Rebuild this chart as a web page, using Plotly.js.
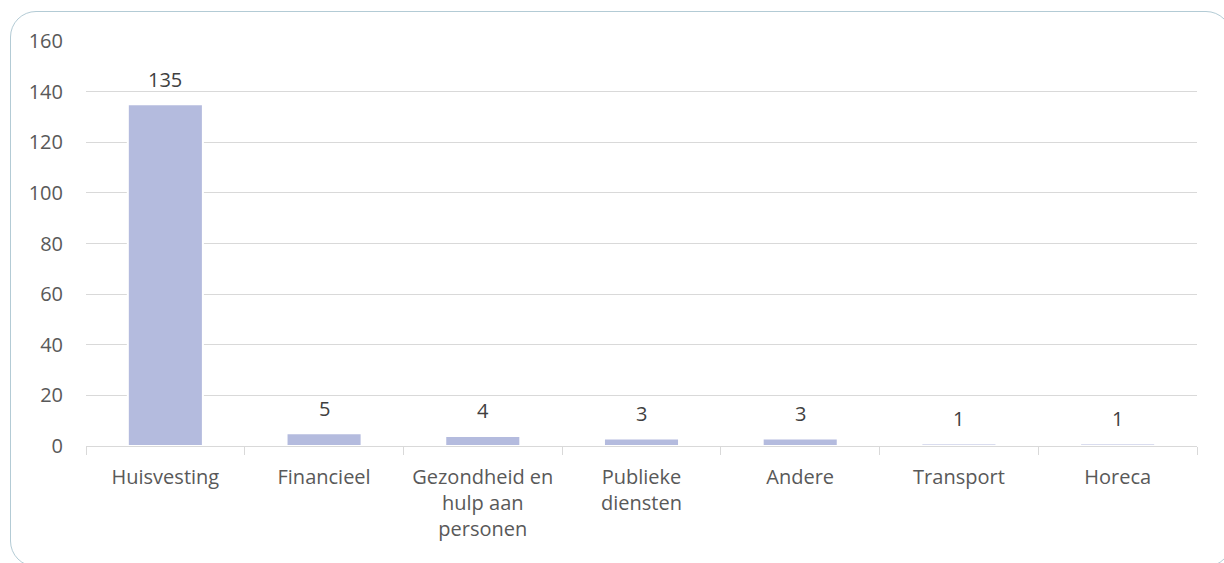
<!DOCTYPE html>
<html>
<head>
<meta charset="utf-8">
<script src="https://cdn.plot.ly/plotly-3.0.1.min.js"></script>
<style>
  html, body { margin: 0; padding: 0; background: #ffffff; overflow: hidden; }
  #wrap { position: relative; width: 1224px; height: 563px; }
  #frame { position: absolute; left: 10px; top: 11px; width: 1222px; height: 556px;
           border: 1.5px solid #b3cbd5; border-radius: 26px; box-sizing: border-box; pointer-events: none; }
  #chart { position: absolute; left: 0; top: 0; width: 1224px; height: 563px; }
</style>
</head>
<body>
<div id="wrap">
  <div id="chart"></div>
  <div id="frame"></div>
</div>
<script>
const categories = ["Huisvesting", "Financieel", "Gezondheid en<br>hulp aan<br>personen", "Publieke<br>diensten", "Andere", "Transport", "Horeca"];
const counts = [135, 5, 4, 3, 3, 1, 1];
const yTicks = [0, 20, 40, 60, 80, 100, 120, 140, 160];

const fontFamily = "'Open Sans', 'Noto Sans', sans-serif";
const textColor = "#595959";
const fs = 20;

const trace = {
  type: "bar",
  x: categories,
  y: counts,
  marker: { color: "#b4bbde", line: { color: "#ffffff", width: 2 } },
  hoverinfo: "none"
};

const annotations = categories.map((c, i) => ({
  x: c, y: counts[i], xref: "x", yref: "y",
  text: String(counts[i]), showarrow: false,
  yanchor: "middle", yshift: 25,
  font: { family: fontFamily, size: fs, color: "#404040" }
}));

const layout = {
  width: 1224, height: 563,
  margin: { l: 86, r: 27, t: 41, b: 117, pad: 0 },
  paper_bgcolor: "rgba(0,0,0,0)",
  plot_bgcolor: "rgba(0,0,0,0)",
  showlegend: false,
  bargap: 0.527,
  font: { family: fontFamily, size: fs, color: textColor },
  xaxis: {
    type: "category",
    tickson: "boundaries",
    ticks: "outside", ticklen: 8, tickcolor: "#d9d9d9", tickwidth: 1,
    showline: true, linecolor: "#d9d9d9", linewidth: 1,
    showgrid: false, zeroline: false,
    ticklabelstandoff: 13,
    tickfont: { family: fontFamily, size: fs, color: textColor },
    fixedrange: true
  },
  yaxis: {
    range: [0, 160],
    tickvals: yTicks,
    ticktext: yTicks.map(String),
    showgrid: true, gridcolor: "#d9d9d9", gridwidth: 1,
    zeroline: false, showline: false,
    ticks: "", ticklabelstandoff: 22,
    tickfont: { family: fontFamily, size: fs, color: textColor },
    fixedrange: true
  },
  annotations: annotations
};

Plotly.newPlot("chart", [trace], layout, { displayModeBar: false, staticPlot: true });
</script>
</body>
</html>
